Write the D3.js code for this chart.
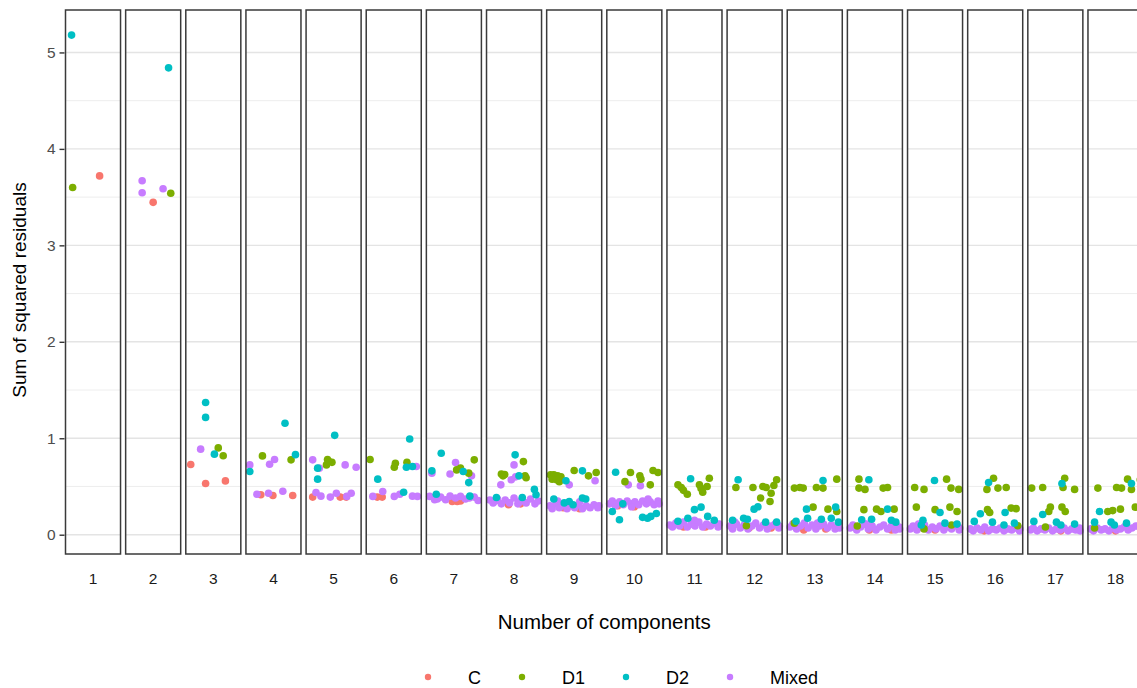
<!DOCTYPE html>
<html>
<head>
<meta charset="utf-8">
<script src="https://cdn.jsdelivr.net/npm/d3@7"></script>
<style>
  html, body { margin: 0; padding: 0; background: #fff; }
  text { font-family: "Liberation Sans", Arial, Helvetica, sans-serif; }
</style>
</head>
<body>
<svg id="chart" width="1137" height="688"></svg>
<script>
// ---- data ----
const components = d3.range(1, 19).map(String);
const yTicks = [0, 1, 2, 3, 4, 5];
const yMinor = [0.5, 1.5, 2.5, 3.5, 4.5];
const groups = ["C", "D1", "D2", "Mixed"];
const groupColors = ["#F8766D", "#7CAE00", "#00BFC4", "#C77CFF"];

// each point: [number of components, jitter position within panel (0..1), sum of squared residuals]
const seriesC = [
  [1,.62,3.72],[2,.50,3.446],
  [3,.09,.728],[3,.36,.531],[3,.72,.558],
  [4,.27,.414],[4,.49,.407],[4,.85,.407],
  [5,.12,.39],[5,.62,.39],[5,.73,.39],
  [6,.20,.39],[6,.29,.39],
  [7,.47,.345],[7,.56,.345],[7,.62,.35],
  [8,.62,.32],[8,.40,.31],
  [9,.3,.28],[9,.6,.27],
  [10,.5,.29],[10,.2,.30],
  [11,.3,.08],[11,.7,.08],
  [12,.4,.07],[12,.8,.07],
  [13,.3,.05],[13,.7,.06],[14,.4,.05],[14,.8,.05],[15,.5,.05],[16,.3,.04],[17,.6,.04],[18,.5,.04]
];
const seriesMixed = [
  [2,.30,3.67],[2,.30,3.546],[2,.68,3.587],
  [3,.27,.887],
  [4,.07,.724],[4,.43,.73],[4,.52,.78],[4,.20,.42],[4,.41,.43],[4,.67,.45],
  [5,.12,.776],[5,.24,.69],[5,.71,.724],[5,.91,.70],[5,.18,.438],[5,.27,.40],[5,.44,.39],[5,.55,.43],[5,.74,.397],[5,.82,.43],
  [6,.91,.707],[6,.12,.397],[6,.30,.448],[6,.51,.397],[6,.61,.42],[6,.84,.40],[6,.93,.397],
  [7,.53,.748],[7,.43,.63],[7,.82,.61],[7,.10,.638],
  [7,.06,.397],[7,.15,.362],[7,.26,.39],[7,.35,.362],[7,.43,.40],[7,.53,.38],[7,.62,.397],[7,.71,.37],[7,.87,.39],[7,.94,.355],[7,.20,.37],[7,.78,.38],
  [8,.5,.724],[8,.45,.57],[8,.26,.517],[8,.53,.60],
  [8,.06,.36],[8,.12,.33],[8,.2,.37],[8,.27,.32],[8,.34,.36],[8,.42,.33],[8,.5,.38],[8,.57,.32],[8,.64,.36],[8,.72,.33],[8,.8,.37],[8,.88,.32],[8,.94,.35],[8,.16,.35],[8,.6,.34],
  [9,.88,.56],[9,.41,.517],
  [9,.06,.30],[9,.1,.27],[9,.17,.32],[9,.23,.28],[9,.3,.31],[9,.37,.27],[9,.44,.30],[9,.51,.28],[9,.58,.31],[9,.65,.27],[9,.72,.30],[9,.79,.28],[9,.86,.31],[9,.93,.28],[9,.95,.30],[9,.2,.35],[9,.6,.34],
  [10,.39,.517],[10,.61,.507],
  [10,.05,.32],[10,.1,.35],[10,.16,.30],[10,.23,.34],[10,.3,.31],[10,.37,.35],[10,.44,.32],[10,.51,.34],[10,.58,.31],[10,.65,.35],[10,.72,.32],[10,.79,.34],[10,.86,.31],[10,.93,.35],[10,.95,.32],[10,.45,.29],[10,.75,.37],
  [11,.05,.10],[11,.1,.08],[11,.16,.12],[11,.23,.09],[11,.3,.13],[11,.37,.08],[11,.44,.11],[11,.51,.09],[11,.58,.13],[11,.65,.08],[11,.72,.11],[11,.79,.09],[11,.86,.12],[11,.93,.08],[11,.95,.11],[11,.5,.15],
  [12,.05,.09],[12,.1,.06],[12,.17,.11],[12,.24,.07],[12,.31,.10],[12,.38,.06],[12,.45,.09],[12,.52,.12],[12,.59,.07],[12,.66,.10],[12,.73,.06],[12,.8,.09],[12,.87,.11],[12,.94,.07],[12,.95,.09],[12,.14,.13],
  [13,.05,.08],[13,.1,.11],[13,.17,.06],[13,.24,.09],[13,.31,.12],[13,.38,.07],[13,.45,.10],[13,.52,.06],[13,.59,.09],[13,.66,.11],[13,.73,.07],[13,.8,.10],[13,.87,.06],[13,.94,.09],[13,.95,.07],[13,.55,.12],
  [14,.05,.07],[14,.1,.10],[14,.17,.05],[14,.24,.08],[14,.31,.11],[14,.38,.06],[14,.45,.09],[14,.52,.05],[14,.59,.08],[14,.66,.10],[14,.73,.06],[14,.8,.09],[14,.87,.05],[14,.94,.08],[14,.95,.06],[14,.35,.11],
  [15,.05,.06],[15,.1,.09],[15,.17,.05],[15,.24,.08],[15,.31,.10],[15,.38,.05],[15,.45,.08],[15,.52,.06],[15,.59,.09],[15,.66,.05],[15,.73,.08],[15,.8,.06],[15,.87,.09],[15,.94,.05],[15,.95,.07],[15,.2,.11],
  [16,.05,.06],[16,.1,.04],[16,.17,.07],[16,.24,.05],[16,.31,.08],[16,.38,.04],[16,.45,.06],[16,.52,.05],[16,.59,.07],[16,.66,.04],[16,.73,.06],[16,.8,.05],[16,.87,.07],[16,.94,.04],[16,.95,.06],
  [17,.05,.05],[17,.1,.07],[17,.17,.04],[17,.24,.06],[17,.31,.05],[17,.38,.07],[17,.45,.04],[17,.52,.06],[17,.59,.05],[17,.66,.07],[17,.73,.04],[17,.8,.06],[17,.87,.05],[17,.94,.07],[17,.95,.04],
  [18,.05,.06],[18,.1,.04],[18,.17,.07],[18,.24,.05],[18,.31,.06],[18,.38,.04],[18,.45,.07],[18,.52,.05],[18,.59,.06],[18,.66,.08],[18,.73,.05],[18,.8,.07],[18,.87,.09],[18,.94,.08],[18,.95,.1]
];
const seriesD1 = [
  [1,.13,3.60],[2,.82,3.54],
  [3,.59,.90],[3,.68,.818],
  [4,.30,.817],[4,.82,.776],
  [5,.39,.78],[5,.37,.724],[5,.47,.75],[5,.41,.76],
  [6,.07,.78],[6,.53,.74],[6,.51,.70],[6,.74,.75],
  [7,.87,.776],[7,.55,.672],[7,.62,.69],[7,.77,.638],
  [8,.67,.758],[8,.30,.61],[8,.27,.63],[8,.33,.625],[8,.70,.61],[8,.72,.59],
  [9,.07,.62],[9,.13,.62],[9,.2,.61],[9,.10,.576],[9,.18,.57],[9,.26,.60],[9,.23,.55],[9,.5,.666],[9,.76,.61],[9,.9,.645],
  [10,.43,.645],[10,.6,.61],[10,.84,.666],[10,.93,.645],[10,.33,.55],[10,.62,.576],[10,.79,.517],
  [11,.2,.517],[11,.26,.49],[11,.3,.46],[11,.37,.42],[11,.59,.517],[11,.62,.48],[11,.65,.44],[11,.77,.586],[11,.73,.50],
  [12,.16,.49],[12,.47,.49],[12,.65,.50],[12,.71,.49],[12,.9,.57],[12,.85,.51],[12,.8,.43],[12,.61,.38],[12,.78,.345],[12,.35,.093],
  [13,.13,.483],[13,.23,.49],[13,.29,.483],[13,.53,.49],[13,.65,.483],[13,.9,.576],[13,.47,.286],[13,.74,.265],[13,.9,.24],[13,.13,.12],
  [14,.21,.576],[14,.21,.483],[14,.32,.47],[14,.65,.483],[14,.73,.49],[14,.30,.26],[14,.53,.265],[14,.61,.24],[14,.85,.265],[14,.18,.09],
  [15,.13,.49],[15,.3,.47],[15,.71,.576],[15,.79,.483],[15,.93,.47],[15,.16,.286],[15,.5,.26],[15,.77,.286],[15,.9,.24],[15,.3,.06],[15,.8,.1],
  [16,.47,.586],[16,.35,.47],[16,.55,.483],[16,.70,.49],[16,.36,.26],[16,.79,.276],[16,.88,.27],[16,.91,.093],[16,.4,.23],
  [17,.07,.483],[17,.27,.49],[17,.67,.586],[17,.64,.49],[17,.85,.47],[17,.41,.286],[17,.38,.24],[17,.62,.286],[17,.68,.24],[17,.32,.08],
  [18,.18,.483],[18,.52,.49],[18,.61,.483],[18,.72,.576],[18,.79,.47],[18,.86,.286],[18,.36,.24],[18,.45,.25],[18,.59,.265],[18,.12,.07],[18,.95,.57]
];
const seriesD2 = [
  [1,.11,5.18],[2,.78,4.84],
  [3,.36,1.371],[3,.36,1.216],[3,.52,.835],
  [4,.71,1.155],[4,.07,.655],[4,.90,.83],
  [5,.52,1.03],[5,.21,.69],[5,.21,.576],
  [6,.79,.993],[6,.21,.576],[6,.73,.70],[6,.84,.707],[6,.68,.44],
  [7,.27,.845],[7,.10,.662],[7,.67,.655],[7,.77,.54],[7,.18,.42],[7,.79,.40],
  [8,.52,.828],[8,.59,.61],[8,.87,.47],[8,.90,.414],[8,.18,.386],[8,.65,.386],
  [9,.65,.662],[9,.35,.56],[9,.65,.38],[9,.71,.37],[9,.41,.345],[9,.48,.31],[9,.32,.33],[9,.13,.37],
  [10,.16,.648],[10,.10,.24],[10,.23,.155],[10,.29,.32],[10,.65,.18],[10,.74,.17],[10,.80,.19],[10,.9,.22],
  [11,.43,.58],[11,.5,.26],[11,.62,.286],[11,.38,.17],[11,.74,.19],[11,.86,.15],[11,.2,.14],
  [12,.2,.57],[12,.49,.265],[12,.56,.29],[12,.3,.17],[12,.37,.16],[12,.1,.15],[12,.7,.13],[12,.9,.13],
  [13,.65,.562],[13,.35,.265],[13,.88,.286],[13,.16,.14],[13,.37,.17],[13,.62,.16],[13,.8,.17],[13,.93,.13],
  [14,.39,.57],[14,.73,.265],[14,.26,.155],[14,.44,.16],[14,.8,.15],[14,.88,.13],
  [15,.49,.562],[15,.59,.23],[15,.28,.15],[15,.68,.12],[15,.25,.1],[15,.9,.11],
  [16,.38,.54],[16,.23,.217],[16,.68,.23],[16,.12,.138],[16,.45,.13],[16,.66,.1],[16,.85,.12],
  [17,.62,.53],[17,.27,.21],[17,.11,.138],[17,.52,.13],[17,.85,.11],[17,.6,.1],
  [18,.79,.53],[18,.21,.24],[18,.42,.13],[18,.12,.13],[18,.48,.10],[18,.7,.12]
];

// ---- layout ----
const svg = d3.select("#chart");
svg.append("rect").attr("width", 1137).attr("height", 688).attr("fill", "#fff");

const plotLeft = 65.5, plotRight = 1143, plotTop = 10, plotBottom = 554;
const xPanel = d3.scaleBand().domain(components).range([plotLeft, plotRight]).paddingInner(0.085).paddingOuter(0);
const xJit = d3.scaleLinear().domain([0, 1]).range([0, xPanel.bandwidth()]);
const y = d3.scaleLinear().domain([-0.2, 5.44]).range([plotBottom, plotTop]);
const color = d3.scaleOrdinal().domain(groups).range(groupColors);

// panels: grid
const panels = svg.append("g").selectAll("g.panel").data(components).join("g")
  .attr("class", "panel")
  .attr("transform", d => `translate(${xPanel(d)},0)`);

panels.each(function() {
  const g = d3.select(this);
  g.selectAll("line.minor").data(yMinor).join("line")
    .attr("x1", 0).attr("x2", xPanel.bandwidth())
    .attr("y1", d => y(d)).attr("y2", d => y(d))
    .attr("stroke", "#ebebeb").attr("stroke-width", 0.9);
  g.selectAll("line.major").data(yTicks).join("line")
    .attr("x1", 0).attr("x2", xPanel.bandwidth())
    .attr("y1", d => y(d)).attr("y2", d => y(d))
    .attr("stroke", "#e4e4e4").attr("stroke-width", 1.4);
});

// points (drawn in group order)
const allSeries = [["C", seriesC], ["Mixed", seriesMixed], ["D1", seriesD1], ["D2", seriesD2]];
const pts = svg.append("g");
allSeries.forEach(([name, arr]) => {
  pts.append("g").selectAll("circle").data(arr).join("circle")
    .attr("cx", d => xPanel(String(d[0])) + xJit(d[1]))
    .attr("cy", d => y(d[2]))
    .attr("r", 3.8)
    .attr("fill", color(name));
});

// panel borders
svg.append("g").selectAll("rect").data(components).join("rect")
  .attr("x", d => xPanel(d)).attr("y", plotTop)
  .attr("width", xPanel.bandwidth()).attr("height", plotBottom - plotTop)
  .attr("fill", "none").attr("stroke", "#3a3a3a").attr("stroke-width", 1.5);

// y axis
const yAxis = d3.axisLeft(y).tickValues(yTicks).tickSize(5).tickPadding(4).tickFormat(d3.format("d"));
const ya = svg.append("g").attr("transform", `translate(${plotLeft - 1},0)`).call(yAxis);
ya.select(".domain").remove();
ya.selectAll(".tick line").attr("stroke", "#333").attr("stroke-width", 1.4);
ya.selectAll(".tick text").attr("fill", "#4d4d4d").style("font-size", "15.5px")
  .style("font-family", "'Liberation Sans', Arial, sans-serif");

// x labels (facet strips at bottom)
svg.append("g").selectAll("text").data(components).join("text")
  .attr("x", d => xPanel(d) + xPanel.bandwidth() / 2)
  .attr("y", 584)
  .attr("text-anchor", "middle")
  .attr("fill", "#1a1a1a")
  .style("font-size", "15.5px")
  .text(d => d);

// axis titles
svg.append("text")
  .attr("x", (plotLeft + plotRight) / 2).attr("y", 629)
  .attr("text-anchor", "middle").style("font-size", "20.5px").attr("fill", "#000")
  .text("Number of components");
svg.append("text")
  .attr("transform", `translate(26,290) rotate(-90)`)
  .attr("text-anchor", "middle").style("font-size", "19px").attr("fill", "#000")
  .text("Sum of squared residuals");

// legend
const legend = svg.append("g");
let lx = 428;
groups.forEach((gname) => {
  legend.append("circle").attr("cx", lx).attr("cy", 677).attr("r", 3.2).attr("fill", color(gname));
  const t = legend.append("text").attr("x", lx + 40).attr("y", 683.5)
    .style("font-size", "18px").attr("fill", "#000").text(gname);
  lx = lx + 40 + t.node().getComputedTextLength() + 41;
});
</script>
</body>
</html>
